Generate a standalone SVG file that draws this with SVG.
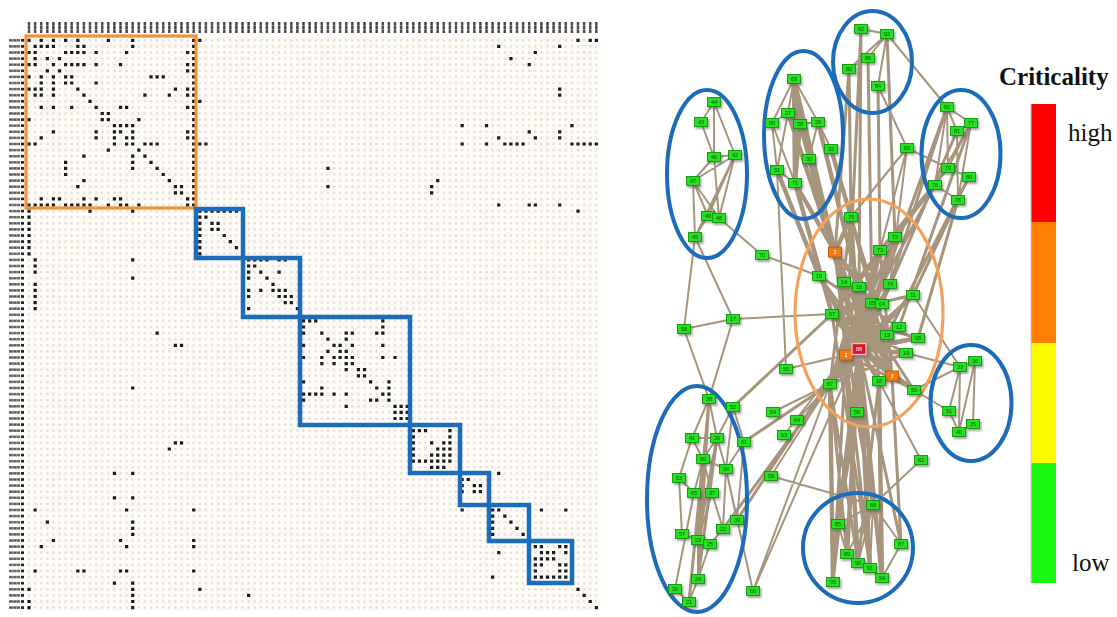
<svg xmlns="http://www.w3.org/2000/svg" width="1117" height="617" viewBox="0 0 1117 617">
<defs>
<style>
.n{filter:url(#sh)}
.n rect{fill:#27e020;stroke:#12960c;stroke-width:.9}
.n text{font-family:'Liberation Sans',Arial,sans-serif;font-size:5.5px;fill:#0c4f08;text-anchor:middle}
.o rect{fill:#ee7d12;stroke:#b85a05}
.o text{fill:#fff}
.r rect{fill:#d8182c;stroke:#f7b9bf;stroke-width:1.3}
.r text{fill:#fff}
.e{fill:none;stroke:#a6947c;stroke-linecap:round}
.t1{stroke-width:2}
.t2{stroke-width:3}
.t3{stroke-width:4.4}
.bb{fill:none;stroke:#1d6cbb;stroke-width:4.5}
.cl{fill:none;stroke:#1d6cbb;stroke-width:4}
.lg{font-family:'Liberation Serif','Times New Roman',serif;font-size:25px;fill:#111}
</style>
<filter id="sh" x="-50%" y="-50%" width="200%" height="200%">
<feDropShadow dx="1.5" dy="2" stdDeviation="1.2" flood-color="#555" flood-opacity=".55"/>
</filter>
<pattern id="grid" patternUnits="userSpaceOnUse" x="25.95" y="37.25" width="6.1" height="6.1">
<rect x="2" y="2" width="2.1" height="2.1" fill="#e6d8c6"/>
</pattern>
<pattern id="colLab" patternUnits="userSpaceOnUse" x="25.95" y="22" width="6.1" height="14">
<rect x="1.9" y="0" width="2.3" height="11" fill="#3d3834"/>
<rect x="1.9" y="3.2" width="2.3" height=".8" fill="#9a928a"/>
<rect x="1.9" y="7" width="2.3" height=".8" fill="#9a928a"/>
</pattern>
<pattern id="rowLab" patternUnits="userSpaceOnUse" x="0" y="37.25" width="30" height="6.1">
<rect x="9" y="1.9" width="11" height="2.3" fill="#5a5550"/>
<rect x="12.5" y="1.9" width=".8" height="2.3" fill="#b8b0a8"/>
<rect x="16.5" y="1.9" width=".8" height="2.3" fill="#b8b0a8"/>
<rect x="21" y="1.7" width="3" height="2.7" fill="#222"/>
</pattern>
</defs>
<rect width="1117" height="617" fill="#fff"/>

<g id="matrix">
<rect x="25" y="37" width="576" height="574" fill="#fdfbf7"/>
<rect x="25" y="37" width="576" height="574" fill="url(#grid)"/>
<rect x="25.95" y="22" width="573.4" height="12" fill="url(#colLab)"/>
<rect x="8" y="37.25" width="17" height="573.4" fill="url(#rowLab)"/>
<g transform="translate(29 40.3) scale(6.1)">
<path fill="none" stroke="#1b1b1b" stroke-width=".52" stroke-linecap="square" d="
M0 0h.01M2 0h.01M4 0h.01M6 0h.01M8 0h.01M13 0h.01M17 0h.01M27 0h.01M28 0h.01M90 0h.01M92 0h.01M93 0h.01
M1 1h.01M2 1h.01M3 1h.01M4 1h.01M8 1h.01M9 1h.01M17 1h.01M27 1h.01M77 1h.01M87 1h.01
M0 2h.01M1 2h.01M6 2h.01M7 2h.01M8 2h.01M9 2h.01M11 2h.01M16 2h.01M26 2h.01M27 2h.01M83 2h.01
M1 3h.01M3 3h.01M5 3h.01M27 3h.01M79 3h.01
M0 4h.01M1 4h.01M4 4h.01M6 4h.01M7 4h.01M8 4h.01M9 4h.01M11 4h.01M15 4h.01M26 4h.01M27 4h.01M82 4h.01
M3 5h.01M5 5h.01M26 5h.01M27 5h.01
M0 6h.01M2 6h.01M4 6h.01M6 6h.01M7 6h.01M20 6h.01M21 6h.01M22 6h.01M27 6h.01
M2 7h.01M4 7h.01M6 7h.01M7 7h.01M11 7h.01M27 7h.01
M0 8h.01M1 8h.01M2 8h.01M4 8h.01M8 8h.01M24 8h.01M26 8h.01M27 8h.01M87 8h.01
M1 9h.01M2 9h.01M4 9h.01M9 9h.01M19 9h.01M23 9h.01M26 9h.01M27 9h.01M87 9h.01
M10 10h.01M27 10h.01M28 10h.01
M2 11h.01M4 11h.01M7 11h.01M11 11h.01M15 11h.01M16 11h.01M26 11h.01M27 11h.01
M12 12h.01M13 12h.01M27 12h.01
M0 13h.01M12 13h.01M13 13h.01M18 13h.01M27 13h.01
M14 14h.01M15 14h.01M16 14h.01M17 14h.01M27 14h.01M71 14h.01M75 14h.01M89 14h.01
M4 15h.01M11 15h.01M14 15h.01M15 15h.01M17 15h.01M26 15h.01M27 15h.01M82 15h.01M87 15h.01
M2 16h.01M11 16h.01M14 16h.01M16 16h.01M17 16h.01M26 16h.01M27 16h.01M77 16h.01M83 16h.01M87 16h.01
M0 17h.01M1 17h.01M14 17h.01M16 17h.01M17 17h.01M19 17h.01M20 17h.01M21 17h.01M27 17h.01M28 17h.01M29 17h.01M71 17h.01M75 17h.01M78 17h.01M79 17h.01M80 17h.01M81 17h.01M89 17h.01M90 17h.01M91 17h.01M92 17h.01M93 17h.01
M13 18h.01M18 18h.01M27 18h.01
M9 19h.01M17 19h.01M19 19h.01M27 19h.01
M6 20h.01M17 20h.01M20 20h.01M27 20h.01
M6 21h.01M17 21h.01M21 21h.01M27 21h.01M49 21h.01
M6 22h.01M22 22h.01M27 22h.01
M9 23h.01M23 23h.01M27 23h.01M67 23h.01
M8 24h.01M24 24h.01M25 24h.01M27 24h.01M49 24h.01M66 24h.01
M24 25h.01M25 25h.01M27 25h.01M66 25h.01
M2 26h.01M4 26h.01M5 26h.01M9 26h.01M11 26h.01M14 26h.01M15 26h.01M26 26h.01M27 26h.01
M0 27h.01M1 27h.01M2 27h.01M3 27h.01M4 27h.01M6 27h.01M7 27h.01M8 27h.01M9 27h.01M10 27h.01M13 27h.01M15 27h.01M16 27h.01M18 27h.01M26 27h.01M27 27h.01M77 27h.01M82 27h.01M83 27h.01M87 27h.01
M0 28h.01M10 28h.01M17 28h.01M28 28h.01M29 28h.01M30 28h.01M31 28h.01M32 28h.01M33 28h.01M34 28h.01M90 28h.01
M0 29h.01M28 29h.01M29 29h.01
M0 30h.01M28 30h.01M30 30h.01M31 30h.01
M0 31h.01M28 31h.01M30 31h.01M31 31h.01
M0 32h.01M28 32h.01M32 32h.01
M0 33h.01M28 33h.01M33 33h.01
M0 34h.01M28 34h.01M34 34h.01
M0 35h.01M28 35h.01
M1 36h.01M17 36h.01M36 36h.01M37 36h.01M38 36h.01M39 36h.01M41 36h.01M42 36h.01
M1 37h.01M36 37h.01M37 37h.01
M1 38h.01M36 38h.01M38 38h.01M41 38h.01
M17 39h.01M36 39h.01M39 39h.01
M1 40h.01M40 40h.01
M1 41h.01M36 41h.01M38 41h.01M40 41h.01M41 41h.01M42 41h.01
M1 42h.01M36 42h.01M41 42h.01M42 42h.01M43 42h.01
M1 43h.01M42 43h.01M43 43h.01
M1 44h.01M36 44h.01M44 44h.01
M45 46h.01M46 46h.01M47 46h.01M58 46h.01
M45 47h.01M58 47h.01
M21 48h.01M45 48h.01M48 48h.01M52 48h.01M53 48h.01M57 48h.01M58 48h.01
M49 49h.01M52 49h.01
M24 50h.01M25 50h.01M45 50h.01M50 50h.01M51 50h.01M53 50h.01M58 50h.01
M49 51h.01M51 51h.01M52 51h.01
M45 52h.01M48 52h.01M50 52h.01M51 52h.01M52 52h.01M53 52h.01M58 52h.01M60 52h.01
M48 53h.01M50 53h.01M52 53h.01M53 53h.01
M52 54h.01M54 54h.01M55 54h.01
M54 55h.01M55 55h.01
M45 56h.01M56 56h.01M59 56h.01
M17 57h.01M48 57h.01M57 57h.01M59 57h.01
M45 58h.01M46 58h.01M47 58h.01M48 58h.01M50 58h.01M52 58h.01M58 58h.01M59 58h.01
M45 59h.01M56 59h.01M57 59h.01M59 59h.01
M52 60h.01M60 60h.01M61 60h.01M62 60h.01
M60 61h.01M61 61h.01M62 61h.01
M60 62h.01M61 62h.01M62 62h.01
M63 64h.01M64 64h.01M65 64h.01M69 64h.01
M63 65h.01M69 65h.01
M24 66h.01M25 66h.01M63 66h.01M66 66h.01M68 66h.01M69 66h.01
M23 67h.01M63 67h.01M67 67h.01M68 67h.01M69 67h.01
M63 68h.01M66 68h.01M67 68h.01M68 68h.01M69 68h.01
M63 69h.01M64 69h.01M65 69h.01M66 69h.01M67 69h.01M68 69h.01M69 69h.01
M66 70h.01M67 70h.01M68 70h.01
M14 71h.01M17 71h.01M71 71h.01M72 71h.01M73 71h.01M74 71h.01M77 71h.01
M71 72h.01M72 72h.01
M71 73h.01M73 73h.01M74 73h.01
M71 74h.01M73 74h.01M74 74h.01
M14 75h.01M17 75h.01
M1 77h.01M16 77h.01M27 77h.01M71 77h.01M76 77h.01M77 77h.01M84 77h.01M88 77h.01
M76 78h.01M78 78h.01
M3 79h.01M17 79h.01M76 79h.01M79 79h.01
M17 80h.01M76 80h.01M80 80h.01
M17 81h.01M76 81h.01M81 81h.01
M4 82h.01M15 82h.01M27 82h.01
M2 83h.01M16 83h.01M27 83h.01M83 83h.01M84 83h.01M87 83h.01M88 83h.01
M77 84h.01M84 84h.01M85 84h.01M86 84h.01M88 84h.01
M83 85h.01M84 85h.01M85 85h.01M86 85h.01
M83 86h.01M84 86h.01M87 86h.01M88 86h.01
M1 87h.01M8 87h.01M9 87h.01M15 87h.01M16 87h.01M27 87h.01M83 87h.01M87 87h.01M88 87h.01
M76 88h.01M83 88h.01M84 88h.01M85 88h.01M86 88h.01M87 88h.01M88 88h.01
M14 89h.01M17 89h.01M89 89h.01
M0 90h.01M17 90h.01M28 90h.01M90 90h.01
M17 91h.01M36 91h.01M91 91h.01
M0 92h.01M17 92h.01M92 92h.01
M0 93h.01M17 93h.01M93 93h.01"/>
</g>
<rect x="26" y="36" width="170" height="172" fill="none" stroke="#f0913c" stroke-width="3.2"/>
<rect class="bb" x="196" y="209" width="47" height="49"/>
<rect class="bb" x="243" y="258" width="57" height="59"/>
<rect class="bb" x="300" y="317" width="110" height="108"/>
<rect class="bb" x="410" y="425" width="50" height="48"/>
<rect class="bb" x="460" y="473" width="29" height="32"/>
<rect class="bb" x="489" y="505" width="40" height="36"/>
<rect class="bb" x="529" y="541" width="43" height="42"/>
</g>

<g id="connectors">
<path class="e t1" d="M861 29L887 34M887 34L868 58M868 58L849 69M887 34L878 86M887 34L849 69M887 34L947 107
M794 79L788 113M794 79L772 123M794 79L818 122M788 113L772 123M788 113L777 170M772 123L777 170M772 123L795 183M800 124L818 122M818 122L831 149M818 122L809 159M777 170L795 183M800 124L809 159M788 113L800 124
M714 102L701 122M714 102L714 157M714 102L735 155M701 122L714 157M714 157L735 155M714 157L693 181M735 155L693 181M735 155L708 216M693 181L708 216M693 181L719 218M708 216L695 237M693 181L695 237M735 155L719 218M714 157L719 218M708 216L719 218M735 155L695 237
M719 218L762 255M695 237L684 329M695 237L733 319M762 255L819 276M733 319L832 314M684 329L733 319M684 329L709 399M733 319L709 399M786 369L846 355M786 369L777 170
M773 412L830 384M797 420L830 384M784 435L846 355M771 476L873 505M771 476L830 384M753 591L830 384M753 591L859 349M726 469L753 591
M921 460L879 381M921 460L873 505
M907 148L878 86M907 148L948 168M907 148L880 250M907 148L890 284M907 148L851 217
M947 107L971 123M947 107L957 131M947 107L935 185M971 123L957 131M971 123L935 185M971 123L948 168M957 131L958 200M948 168L969 177M948 168L935 185M969 177L958 200M935 185L958 200M947 107L948 168M971 123L958 200
M960 367L975 361M960 367L949 411M960 367L959 432M975 361L973 424M949 411L959 432M975 361L959 432M960 367L906 353M960 367L913 295M949 411L914 390M960 367L914 390
M709 399L692 438M709 399L717 438M709 399L703 459M733 407L744 442M692 438L703 459M717 438L703 459M717 438L726 469M703 459L726 469M703 459L694 493M679 478L694 493M679 478L682 534M694 493L712 493M712 493L723 529M712 493L698 540M723 529L710 544M682 534L698 540M698 540L698 579M698 579L689 602M675 589L689 602M710 544L698 579M692 438L717 438M703 459L712 493M726 469L737 520M744 442L726 469M733 407L717 438M692 438L679 478M675 589L694 493M726 469L723 529M744 442L737 520M733 407L726 469
M873 505L838 524M873 505L901 544M873 505L847 554M873 505L858 563M873 505L870 568M873 505L882 578M838 524L847 554M838 524L833 582M847 554L858 563M870 568L882 578M901 544L882 578"/>
<path class="e t2" d="M861 29L859 287M849 69L851 217M868 58L872 303M878 86L880 250M887 34L895 237M861 29L846 355M849 69L835 252
M935 185L895 237M958 200L913 295M947 107L890 284M971 123L899 327M957 131L882 304M935 185L872 303M958 200L918 338M948 168L880 250M969 177L887 335M947 107L859 349
M709 399L698 579M703 459L689 602M717 438L698 540M709 399L698 540M717 438L698 579
M744 442L830 384M737 520L846 355M733 407L832 314M723 529L830 384
M838 524L857 412M870 568L832 314M858 563L879 381M847 554L830 384M833 582L846 355M901 544L892 376M901 544L859 349M870 568L846 355M858 563L830 384M833 582L859 349M873 505L859 349
M835 252L844 282M835 252L846 355M835 252L892 376M844 282L892 376M880 250L832 314M895 237L846 355M890 284L846 355M913 295L846 355M899 327L830 384M918 338L846 355M851 217L892 376M880 250L892 376M872 303L879 381M882 304L830 384M887 335L832 314M906 353L832 314M914 390L846 355M859 287L830 384M835 252L857 412M851 217L830 384M895 237L830 384M913 295L832 314M819 276L892 376
M835 252L872 303M835 252L882 304M844 282L887 335M819 276L879 381M832 314L892 376M851 217L887 335M895 237L832 314M880 250L830 384M890 284L832 314M913 295L830 384M899 327L846 355M859 287L892 376M872 303L830 384M882 304L846 355M844 282L914 390M819 276L899 327M906 353L830 384M918 338L832 314"/>
<path class="e t3" d="M794 79L835 252M800 124L835 252M809 159L844 282M795 183L835 252M831 149L851 217M818 122L859 287M777 170L819 276M795 183L832 314M788 113L844 282M809 159L859 349M794 79L795 183M800 124L795 183M794 79L800 124M794 79L809 159
M859 349L851 217M859 349L835 252M859 349L880 250M859 349L895 237M859 349L819 276M859 349L844 282M859 349L859 287M859 349L890 284M859 349L913 295M859 349L872 303M859 349L882 304M859 349L832 314M859 349L899 327M859 349L887 335M859 349L918 338M859 349L846 355M859 349L906 353M859 349L892 376M859 349L879 381M859 349L914 390M859 349L830 384M859 349L857 412M851 217L835 252
M847 554L859 349M870 568L859 349M882 578L879 381M833 582L830 384M873 505L857 412M882 578L859 349M838 524L859 349M858 563L846 355"/>
</g>

<g id="clusters">
<ellipse class="cl" cx="707" cy="174" rx="40" ry="84"/>
<ellipse class="cl" cx="803.5" cy="135" rx="39.5" ry="84"/>
<ellipse class="cl" cx="872.5" cy="62" rx="39.5" ry="51"/>
<ellipse class="cl" cx="961" cy="154" rx="39.5" ry="64"/>
<ellipse cx="869" cy="313" rx="74" ry="114" fill="none" stroke="#f3a25c" stroke-width="3.2"/>
<ellipse class="cl" cx="971" cy="403" rx="40.5" ry="58"/>
<ellipse class="cl" cx="697" cy="499" rx="50" ry="113"/>
<ellipse class="cl" cx="858" cy="548" rx="55" ry="55"/>
</g>

<g id="nodes">
<g id="c1" class="n" transform="translate(861 29)"><rect x="-6.5" y="-4.5" width="13" height="9"/><text y="2">92</text></g>
<g id="c2" class="n" transform="translate(887 34)"><rect x="-6.5" y="-4.5" width="13" height="9"/><text y="2">93</text></g>
<g id="c3" class="n" transform="translate(868 58)"><rect x="-6.5" y="-4.5" width="13" height="9"/><text y="2">86</text></g>
<g id="c4" class="n" transform="translate(849 69)"><rect x="-6.5" y="-4.5" width="13" height="9"/><text y="2">80</text></g>
<g id="c5" class="n" transform="translate(878 86)"><rect x="-6.5" y="-4.5" width="13" height="9"/><text y="2">84</text></g>
<g id="b1" class="n" transform="translate(794 79)"><rect x="-6.5" y="-4.5" width="13" height="9"/><text y="2">69</text></g>
<g id="b2" class="n" transform="translate(788 113)"><rect x="-6.5" y="-4.5" width="13" height="9"/><text y="2">27</text></g>
<g id="b3" class="n" transform="translate(772 123)"><rect x="-6.5" y="-4.5" width="13" height="9"/><text y="2">06</text></g>
<g id="b4" class="n" transform="translate(800 124)"><rect x="-6.5" y="-4.5" width="13" height="9"/><text y="2">28</text></g>
<g id="b5" class="n" transform="translate(818 122)"><rect x="-6.5" y="-4.5" width="13" height="9"/><text y="2">29</text></g>
<g id="b6" class="n" transform="translate(831 149)"><rect x="-6.5" y="-4.5" width="13" height="9"/><text y="2">32</text></g>
<g id="b7" class="n" transform="translate(809 159)"><rect x="-6.5" y="-4.5" width="13" height="9"/><text y="2">30</text></g>
<g id="b8" class="n" transform="translate(777 170)"><rect x="-6.5" y="-4.5" width="13" height="9"/><text y="2">31</text></g>
<g id="b9" class="n" transform="translate(795 183)"><rect x="-6.5" y="-4.5" width="13" height="9"/><text y="2">71</text></g>
<g id="a1" class="n" transform="translate(714 102)"><rect x="-6.5" y="-4.5" width="13" height="9"/><text y="2">44</text></g>
<g id="a2" class="n" transform="translate(701 122)"><rect x="-6.5" y="-4.5" width="13" height="9"/><text y="2">43</text></g>
<g id="a3" class="n" transform="translate(714 157)"><rect x="-6.5" y="-4.5" width="13" height="9"/><text y="2">46</text></g>
<g id="a4" class="n" transform="translate(735 155)"><rect x="-6.5" y="-4.5" width="13" height="9"/><text y="2">42</text></g>
<g id="a5" class="n" transform="translate(693 181)"><rect x="-6.5" y="-4.5" width="13" height="9"/><text y="2">47</text></g>
<g id="a6" class="n" transform="translate(708 216)"><rect x="-6.5" y="-4.5" width="13" height="9"/><text y="2">49</text></g>
<g id="a7" class="n" transform="translate(719 218)"><rect x="-6.5" y="-4.5" width="13" height="9"/><text y="2">48</text></g>
<g id="a8" class="n" transform="translate(695 237)"><rect x="-6.5" y="-4.5" width="13" height="9"/><text y="2">45</text></g>
<g id="d1" class="n" transform="translate(947 107)"><rect x="-6.5" y="-4.5" width="13" height="9"/><text y="2">82</text></g>
<g id="d2" class="n" transform="translate(971 123)"><rect x="-6.5" y="-4.5" width="13" height="9"/><text y="2">77</text></g>
<g id="d3" class="n" transform="translate(957 131)"><rect x="-6.5" y="-4.5" width="13" height="9"/><text y="2">81</text></g>
<g id="d4" class="n" transform="translate(948 168)"><rect x="-6.5" y="-4.5" width="13" height="9"/><text y="2">79</text></g>
<g id="d5" class="n" transform="translate(969 177)"><rect x="-6.5" y="-4.5" width="13" height="9"/><text y="2">80</text></g>
<g id="d6" class="n" transform="translate(935 185)"><rect x="-6.5" y="-4.5" width="13" height="9"/><text y="2">78</text></g>
<g id="d7" class="n" transform="translate(958 200)"><rect x="-6.5" y="-4.5" width="13" height="9"/><text y="2">76</text></g>
<g id="p1" class="n" transform="translate(907 148)"><rect x="-6.5" y="-4.5" width="13" height="9"/><text y="2">83</text></g>
<g id="o1" class="n" transform="translate(851 217)"><rect x="-6.5" y="-4.5" width="13" height="9"/><text y="2">75</text></g>
<g id="o2" class="n o" transform="translate(835 252)"><rect x="-6.5" y="-5" width="13" height="10"/><text y="2">2</text></g>
<g id="o3" class="n" transform="translate(880 250)"><rect x="-6.5" y="-4.5" width="13" height="9"/><text y="2">73</text></g>
<g id="o4" class="n" transform="translate(895 237)"><rect x="-6.5" y="-4.5" width="13" height="9"/><text y="2">72</text></g>
<g id="o5" class="n" transform="translate(819 276)"><rect x="-6.5" y="-4.5" width="13" height="9"/><text y="2">15</text></g>
<g id="o6" class="n" transform="translate(844 282)"><rect x="-6.5" y="-4.5" width="13" height="9"/><text y="2">14</text></g>
<g id="o7" class="n" transform="translate(859 287)"><rect x="-6.5" y="-4.5" width="13" height="9"/><text y="2">16</text></g>
<g id="o8" class="n" transform="translate(890 284)"><rect x="-6.5" y="-4.5" width="13" height="9"/><text y="2">74</text></g>
<g id="o9" class="n" transform="translate(913 295)"><rect x="-6.5" y="-4.5" width="13" height="9"/><text y="2">11</text></g>
<g id="o10" class="n" transform="translate(872 303)"><rect x="-6.5" y="-4.5" width="13" height="9"/><text y="2">05</text></g>
<g id="o11" class="n" transform="translate(882 304)"><rect x="-6.5" y="-4.5" width="13" height="9"/><text y="2">04</text></g>
<g id="o12" class="n" transform="translate(832 314)"><rect x="-6.5" y="-4.5" width="13" height="9"/><text y="2">07</text></g>
<g id="o13" class="n" transform="translate(899 327)"><rect x="-6.5" y="-4.5" width="13" height="9"/><text y="2">12</text></g>
<g id="o14" class="n" transform="translate(887 335)"><rect x="-6.5" y="-4.5" width="13" height="9"/><text y="2">13</text></g>
<g id="o15" class="n" transform="translate(918 338)"><rect x="-6.5" y="-4.5" width="13" height="9"/><text y="2">08</text></g>
<g id="o17" class="n o" transform="translate(846 355)"><rect x="-6.5" y="-5" width="13" height="10"/><text y="2">1</text></g>
<g id="o18" class="n" transform="translate(906 353)"><rect x="-6.5" y="-4.5" width="13" height="9"/><text y="2">19</text></g>
<g id="o19" class="n o" transform="translate(892 376)"><rect x="-6.5" y="-5" width="13" height="10"/><text y="2">3</text></g>
<g id="o20" class="n" transform="translate(879 381)"><rect x="-6.5" y="-4.5" width="13" height="9"/><text y="2">18</text></g>
<g id="o21" class="n" transform="translate(914 390)"><rect x="-6.5" y="-4.5" width="13" height="9"/><text y="2">50</text></g>
<g id="o22" class="n" transform="translate(830 384)"><rect x="-6.5" y="-4.5" width="13" height="9"/><text y="2">67</text></g>
<g id="o23" class="n" transform="translate(857 412)"><rect x="-6.5" y="-4.5" width="13" height="9"/><text y="2">56</text></g>
<g id="o16" class="n r" transform="translate(859 349)"><rect x="-7" y="-5.5" width="14" height="11"/><text y="2">88</text></g>
<g id="m1" class="n" transform="translate(762 255)"><rect x="-6.5" y="-4.5" width="13" height="9"/><text y="2">70</text></g>
<g id="m2" class="n" transform="translate(733 319)"><rect x="-6.5" y="-4.5" width="13" height="9"/><text y="2">17</text></g>
<g id="m3" class="n" transform="translate(684 329)"><rect x="-6.5" y="-4.5" width="13" height="9"/><text y="2">58</text></g>
<g id="m4" class="n" transform="translate(786 369)"><rect x="-6.5" y="-4.5" width="13" height="9"/><text y="2">55</text></g>
<g id="m5" class="n" transform="translate(773 412)"><rect x="-6.5" y="-4.5" width="13" height="9"/><text y="2">54</text></g>
<g id="m6" class="n" transform="translate(797 420)"><rect x="-6.5" y="-4.5" width="13" height="9"/><text y="2">64</text></g>
<g id="m7" class="n" transform="translate(784 435)"><rect x="-6.5" y="-4.5" width="13" height="9"/><text y="2">63</text></g>
<g id="m8" class="n" transform="translate(771 476)"><rect x="-6.5" y="-4.5" width="13" height="9"/><text y="2">59</text></g>
<g id="m9" class="n" transform="translate(753 591)"><rect x="-6.5" y="-4.5" width="13" height="9"/><text y="2">66</text></g>
<g id="m10" class="n" transform="translate(921 460)"><rect x="-6.5" y="-4.5" width="13" height="9"/><text y="2">62</text></g>
<g id="e1" class="n" transform="translate(960 367)"><rect x="-6.5" y="-4.5" width="13" height="9"/><text y="2">33</text></g>
<g id="e2" class="n" transform="translate(975 361)"><rect x="-6.5" y="-4.5" width="13" height="9"/><text y="2">36</text></g>
<g id="e3" class="n" transform="translate(949 411)"><rect x="-6.5" y="-4.5" width="13" height="9"/><text y="2">51</text></g>
<g id="e4" class="n" transform="translate(973 424)"><rect x="-6.5" y="-4.5" width="13" height="9"/><text y="2">35</text></g>
<g id="e5" class="n" transform="translate(959 432)"><rect x="-6.5" y="-4.5" width="13" height="9"/><text y="2">40</text></g>
<g id="f1" class="n" transform="translate(709 399)"><rect x="-6.5" y="-4.5" width="13" height="9"/><text y="2">38</text></g>
<g id="f2" class="n" transform="translate(733 407)"><rect x="-6.5" y="-4.5" width="13" height="9"/><text y="2">52</text></g>
<g id="f3" class="n" transform="translate(692 438)"><rect x="-6.5" y="-4.5" width="13" height="9"/><text y="2">41</text></g>
<g id="f4" class="n" transform="translate(717 438)"><rect x="-6.5" y="-4.5" width="13" height="9"/><text y="2">26</text></g>
<g id="f5" class="n" transform="translate(744 442)"><rect x="-6.5" y="-4.5" width="13" height="9"/><text y="2">61</text></g>
<g id="f6" class="n" transform="translate(703 459)"><rect x="-6.5" y="-4.5" width="13" height="9"/><text y="2">60</text></g>
<g id="f7" class="n" transform="translate(726 469)"><rect x="-6.5" y="-4.5" width="13" height="9"/><text y="2">34</text></g>
<g id="f8" class="n" transform="translate(679 478)"><rect x="-6.5" y="-4.5" width="13" height="9"/><text y="2">53</text></g>
<g id="f9" class="n" transform="translate(694 493)"><rect x="-6.5" y="-4.5" width="13" height="9"/><text y="2">65</text></g>
<g id="f10" class="n" transform="translate(712 493)"><rect x="-6.5" y="-4.5" width="13" height="9"/><text y="2">37</text></g>
<g id="f11" class="n" transform="translate(737 520)"><rect x="-6.5" y="-4.5" width="13" height="9"/><text y="2">39</text></g>
<g id="f12" class="n" transform="translate(723 529)"><rect x="-6.5" y="-4.5" width="13" height="9"/><text y="2">22</text></g>
<g id="f13" class="n" transform="translate(682 534)"><rect x="-6.5" y="-4.5" width="13" height="9"/><text y="2">57</text></g>
<g id="f14" class="n" transform="translate(698 540)"><rect x="-6.5" y="-4.5" width="13" height="9"/><text y="2">23</text></g>
<g id="f15" class="n" transform="translate(710 544)"><rect x="-6.5" y="-4.5" width="13" height="9"/><text y="2">25</text></g>
<g id="f16" class="n" transform="translate(698 579)"><rect x="-6.5" y="-4.5" width="13" height="9"/><text y="2">24</text></g>
<g id="f17" class="n" transform="translate(675 589)"><rect x="-6.5" y="-4.5" width="13" height="9"/><text y="2">20</text></g>
<g id="f18" class="n" transform="translate(689 602)"><rect x="-6.5" y="-4.5" width="13" height="9"/><text y="2">21</text></g>
<g id="g1" class="n" transform="translate(873 505)"><rect x="-6.5" y="-4.5" width="13" height="9"/><text y="2">68</text></g>
<g id="g2" class="n" transform="translate(838 524)"><rect x="-6.5" y="-4.5" width="13" height="9"/><text y="2">85</text></g>
<g id="g3" class="n" transform="translate(901 544)"><rect x="-6.5" y="-4.5" width="13" height="9"/><text y="2">87</text></g>
<g id="g4" class="n" transform="translate(847 554)"><rect x="-6.5" y="-4.5" width="13" height="9"/><text y="2">89</text></g>
<g id="g5" class="n" transform="translate(858 563)"><rect x="-6.5" y="-4.5" width="13" height="9"/><text y="2">90</text></g>
<g id="g6" class="n" transform="translate(870 568)"><rect x="-6.5" y="-4.5" width="13" height="9"/><text y="2">91</text></g>
<g id="g7" class="n" transform="translate(882 578)"><rect x="-6.5" y="-4.5" width="13" height="9"/><text y="2">94</text></g>
<g id="g8" class="n" transform="translate(833 582)"><rect x="-6.5" y="-4.5" width="13" height="9"/><text y="2">95</text></g>
</g>

<g id="legend">
<text class="lg" x="999" y="85" font-weight="bold" font-size="26">Criticality</text>
<rect x="1031" y="104" width="25" height="119" fill="#fe0000"/>
<rect x="1031" y="222" width="25" height="121" fill="#ff7f00"/>
<rect x="1031" y="343" width="25" height="120" fill="#fafa00"/>
<rect x="1031" y="463" width="25" height="120" fill="#1af812"/>
<line x1="1031" y1="104" x2="1031" y2="583" stroke="#e9b9de" stroke-width="1"/>
<text class="lg" x="1068" y="141">high</text>
<text class="lg" x="1072" y="571">low</text>
</g>
</svg>
